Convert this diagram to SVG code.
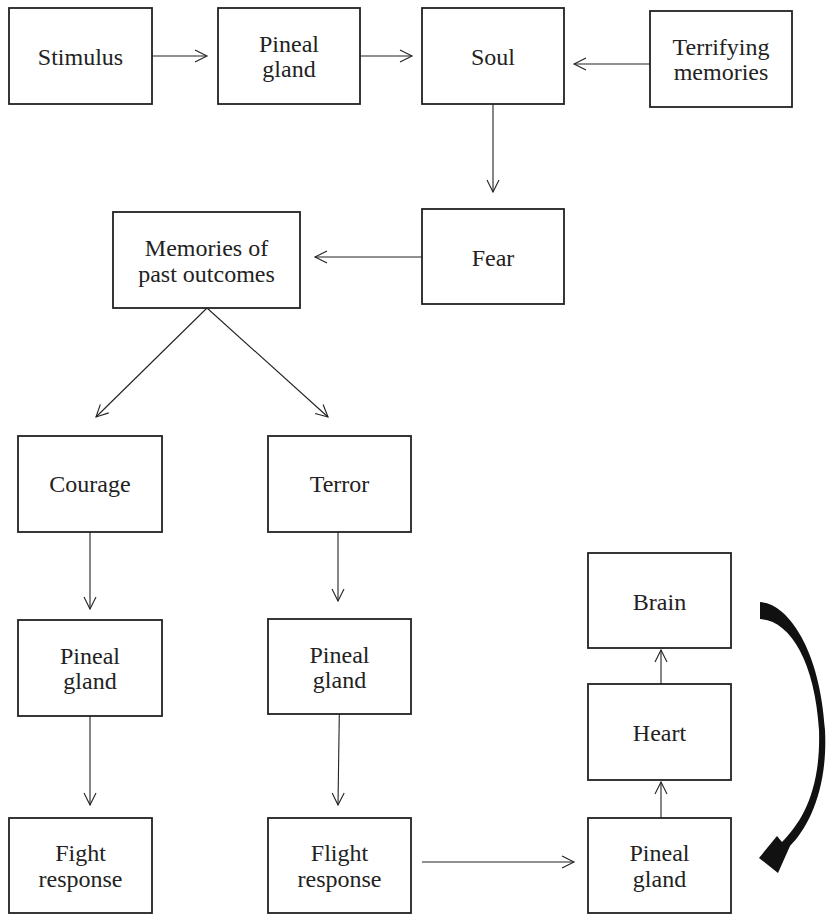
<svg xmlns="http://www.w3.org/2000/svg" width="826" height="914" viewBox="0 0 826 914">
<defs>
<style>
.box{fill:#fff;stroke:#222;stroke-width:1.8}
.t{font-family:"Liberation Serif","Times New Roman",serif;font-size:24px;fill:#222;text-anchor:middle}
.c{fill:none;stroke:#222;stroke-width:1.1;marker-end:url(#ah)}
</style>
<marker id="ah" markerUnits="userSpaceOnUse" markerWidth="16" markerHeight="16" viewBox="-14 -8 16 16" refX="0" refY="0" orient="auto" overflow="visible">
<path d="M-12,-6 L0,0 L-12,6" fill="none" stroke="#222" stroke-width="1.1"/>
</marker>
</defs>
<rect width="826" height="914" fill="#fff"/>
<g id="connectors">
<line class="c" x1="152" y1="56" x2="207" y2="56"/>
<line class="c" x1="360" y1="56" x2="412" y2="56"/>
<line class="c" x1="650" y1="64" x2="574" y2="64"/>
<line class="c" x1="493" y1="104" x2="493" y2="192"/>
<line class="c" x1="422" y1="257" x2="315" y2="257"/>
<line class="c" x1="207" y1="308" x2="96" y2="417"/>
<line class="c" x1="207" y1="308" x2="328" y2="417"/>
<line class="c" x1="90" y1="532" x2="90" y2="609"/>
<line class="c" x1="338" y1="532" x2="338" y2="601"/>
<line class="c" x1="90" y1="716" x2="90" y2="805"/>
<line class="c" x1="339.3" y1="714" x2="338" y2="805"/>
<line class="c" x1="422" y1="862" x2="574" y2="862"/>
<line class="c" x1="661" y1="818" x2="661" y2="782"/>
<line class="c" x1="661" y1="684" x2="661" y2="650"/>
<path id="cycle-arrow" d="M760,602 C787,603 820,648 825,730 C828,790 808,828 790,846 L778,873 L759,858 L777,836 L782,842 C802,822 821,790 819,730 C815,662 790,620 760,619 Z" fill="#111"/>
</g>
<g id="stimulus"><rect class="box" x="9" y="8" width="143" height="96"/><text class="t" x="80.5" y="65">Stimulus</text></g>
<g id="pineal-top"><rect class="box" x="218" y="8" width="142" height="96"/><text class="t" x="289" y="51.5">Pineal</text><text class="t" x="289" y="76.5">gland</text></g>
<g id="soul"><rect class="box" x="422" y="8" width="142" height="96"/><text class="t" x="493" y="65">Soul</text></g>
<g id="terrifying"><rect class="box" x="650" y="11" width="142" height="96"/><text class="t" x="721" y="54.5">Terrifying</text><text class="t" x="721" y="79.5">memories</text></g>
<g id="memories"><rect class="box" x="113" y="212" width="187" height="96"/><text class="t" x="206.5" y="256">Memories of</text><text class="t" x="206.5" y="281.5">past outcomes</text></g>
<g id="fear"><rect class="box" x="422" y="209" width="142" height="95"/><text class="t" x="493" y="265.5">Fear</text></g>
<g id="courage"><rect class="box" x="18" y="436" width="144" height="96"/><text class="t" x="90" y="492">Courage</text></g>
<g id="terror"><rect class="box" x="268" y="436" width="143" height="96"/><text class="t" x="339.5" y="492">Terror</text></g>
<g id="pineal-left"><rect class="box" x="18" y="620" width="144" height="96"/><text class="t" x="90" y="663.5">Pineal</text><text class="t" x="90" y="689">gland</text></g>
<g id="pineal-right"><rect class="box" x="268" y="619" width="143" height="95"/><text class="t" x="339.5" y="662.5">Pineal</text><text class="t" x="339.5" y="688">gland</text></g>
<g id="fight"><rect class="box" x="9" y="818" width="143" height="95"/><text class="t" x="80.5" y="861">Fight</text><text class="t" x="80.5" y="886.5">response</text></g>
<g id="flight"><rect class="box" x="268" y="818" width="143" height="95"/><text class="t" x="339.5" y="861">Flight</text><text class="t" x="339.5" y="886.5">response</text></g>
<g id="brain"><rect class="box" x="588" y="553" width="143" height="95"/><text class="t" x="659.5" y="609.5">Brain</text></g>
<g id="heart"><rect class="box" x="588" y="684" width="143" height="96"/><text class="t" x="659.5" y="741">Heart</text></g>
<g id="pineal-bottom"><rect class="box" x="588" y="818" width="143" height="95"/><text class="t" x="659.5" y="861">Pineal</text><text class="t" x="659.5" y="886.5">gland</text></g>
</svg>
